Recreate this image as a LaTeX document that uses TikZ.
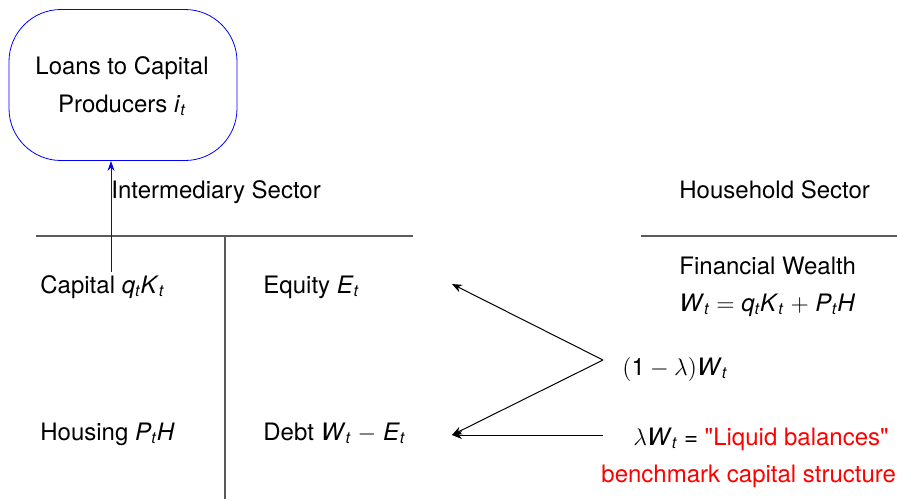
\documentclass[tikz,border=0pt]{standalone}
\usepackage{amsmath}
\usepackage{fontspec}
\setmainfont{TeX Gyre Heros}
\usetikzlibrary{arrows.meta,positioning}
\definecolor{rulegray}{RGB}{90,90,90}
\newcommand{\mv}[1]{\textit{#1}}
\newcommand{\straightq}{{\addfontfeature{Ligatures=TeXOff}"}}

\begin{document}
\begin{tikzpicture}[
  x=0.5pt, y=-0.5pt,
  font=\fontsize{12}{14}\selectfont,
  txt/.style={inner sep=0pt, anchor=base west},
  loanbox/.style={draw=blue, rounded corners=26pt, minimum width=114pt, minimum height=75.5pt},
  sheet/.style={draw=rulegray, line width=0.6pt},
  arr/.style={-{Stealth[length=5pt,width=4pt]}, line width=0.5pt},
  upflow/.style={-{Stealth[length=5pt,width=3.5pt]}, draw=blue, line width=0.5pt}
]
\useasboundingbox (0,0) rectangle (897,499);

% loans box
\node[loanbox] (loans) at (123,85) {};
\node[txt, anchor=base] (loanstxt) at (122,74) {Loans to Capital};
\node[txt, anchor=base] (loanstxt2) at (122,112) {Producers \mv{i}$_{\mv{t}}$};

% sector headers and balance sheets
\node[txt] (inter) at (111,198) {Intermediary Sector};
\node[txt] (house) at (679,198) {Household Sector};
\draw[sheet] (36,236) -- (413,236);
\draw[sheet] (225,236) -- (225,499);
\draw[sheet] (641,236) -- (897,236);

\node[txt] (capital) at (40,293) {Capital \mv{q}$_{\mv{t}}$\mv{K}$_{\mv{t}}$};
\node[txt] (equity) at (263,293) {Equity \mv{E}$_{\mv{t}}$};
\node[txt] (housing) at (40,440) {Housing \mv{P}$_{\mv{t}}$\mv{H}};
\node[txt] (debt) at (263,440) {Debt \mv{W}$_{\mv{t}}$ $-$ \mv{E}$_{\mv{t}}$};

\node[txt] (wealth) at (679,274) {Financial Wealth};
\node[txt] (wealtheq) at (679,311) {\mv{W}$_{\mv{t}}$ $=$ \mv{q}$_{\mv{t}}$\mv{K}$_{\mv{t}}$ $+$ \mv{P}$_{\mv{t}}$\mv{H}};
\node[txt] (mix) at (622,375) {$(\text{1}-\lambda)$\mv{W}$_{\mv{t}}$};
\node[txt] (liquid) at (633,445) {$\lambda$\mv{W}$_{\mv{t}}$ = \textcolor{red}{\straightq Liquid balances\straightq}};
\node[txt, text=red] (bench) at (601,482) {benchmark capital structure};

% flows
\coordinate (split) at (603,360);
\coordinate (liqstart) at (603,435);
\coordinate (eqin) at (452,284);
\coordinate (debtin) at (452,435);
\coordinate (capstart) at (111,272);
\draw[arr] (split) -- (eqin);
\draw[arr] (split) -- (debtin);
\draw[arr] (liqstart) -- (debtin);
\draw[upflow] (capstart) -- (capstart |- loans.south);
\end{tikzpicture}
\end{document}
